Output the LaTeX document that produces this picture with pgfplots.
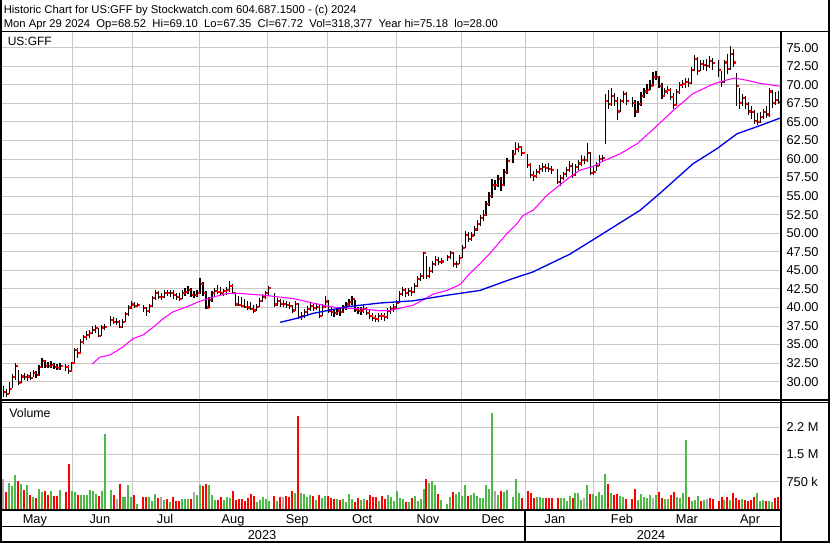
\documentclass[border=0pt]{standalone}
\usepackage{pgfplots}
\usepackage{pgfplotstable}
\pgfplotsset{compat=1.18}
\usepackage{fontspec}
\setmainfont{Liberation Sans}
\definecolor{vgreen}{RGB}{76,185,72}
\definecolor{vred}{RGB}{255,0,0}
\definecolor{vgray}{RGB}{170,170,170}
\definecolor{gridc}{RGB}{200,200,200}
\definecolor{mablue}{RGB}{0,0,235}
\definecolor{mamag}{RGB}{255,0,255}
% i = weekday index from Mon 1 May 2023; h l c = high low close; v = volume (thousands); k: 0 down, 1 up, 2 unchanged
\pgfplotstableread{
i h l c v k
0 29.4 28.0 28.65 809 2
1 29.0 28.0 28.35 471 0
2 30.0 28.4 29.0 699 1
3 31.0 29.2 30.6 613 1
4 32.5 30.2 32.1 927 1
5 31.6 29.6 29.9 756 0
6 31.0 29.8 30.7 670 1
7 31.2 30.2 30.6 528 0
8 31.1 30.1 30.7 642 1
9 31.3 30.2 30.5 385 0
10 31.6 30.6 31.2 328 1
11 31.4 30.5 30.9 300 0
12 32.3 30.8 32.0 556 1
13 33.2 31.9 32.8 471 1
14 32.9 31.9 32.15 500 0
15 32.6 31.8 32.1 385 0
16 32.8 31.9 32.3 500 1
17 32.5 31.7 32.0 357 0
18 32.4 31.6 31.9 357 0
19 32.5 31.6 32.1 528 1
21 32.4 31.5 32.0 471 0
22 32.2 31.0 31.4 1241 0
23 32.7 31.4 32.5 500 1
24 34.6 32.4 34.3 471 1
25 34.5 33.2 33.9 385 0
26 35.7 33.9 35.4 385 1
27 36.3 35.1 36.0 385 1
28 36.8 35.6 36.3 385 1
29 37.0 35.9 36.6 528 1
30 37.5 36.4 37.0 500 1
31 37.6 36.6 37.2 414 1
32 37.3 36.0 36.2 357 0
33 37.6 36.2 37.3 500 1
34 37.8 36.9 37.4 2070 1
36 38.8 37.5 38.3 528 1
37 38.7 37.8 38.1 385 0
38 38.6 37.7 38.1 271 2
39 38.3 37.2 37.4 670 0
40 38.4 37.3 38.1 328 1
41 39.4 38.0 39.1 328 1
42 40.4 38.9 40.0 642 1
43 40.9 39.8 40.4 328 1
44 40.8 39.9 40.2 385 0
45 40.6 40.0 40.3 128 1
47 40.4 39.4 39.9 328 0
48 40.1 38.9 39.5 328 0
49 40.5 39.3 40.2 328 1
50 41.6 40.1 41.3 214 1
51 42.3 41.0 41.9 414 1
52 42.2 41.1 41.4 300 0
53 42.0 41.0 41.4 328 2
54 42.4 41.3 42.0 243 1
55 42.4 41.5 41.9 271 0
56 42.3 41.4 42.0 185 1
57 42.3 41.2 41.7 328 0
58 42.0 41.0 41.4 214 0
59 41.9 40.9 41.2 214 0
60 42.4 41.1 42.0 271 1
61 42.6 41.6 42.1 271 1
62 42.9 41.8 42.3 271 1
63 42.6 41.4 41.7 271 0
64 42.2 41.3 41.7 471 2
65 42.4 41.4 41.9 385 1
66 44.0 41.8 43.2 642 1
67 43.4 41.6 42.0 613 0
68 42.2 39.8 40.0 670 0
69 41.4 39.9 41.0 642 1
70 42.2 40.8 41.9 385 1
71 42.6 41.6 42.2 243 1
72 43.0 41.8 42.1 243 0
73 42.8 41.7 42.0 328 0
74 42.5 41.6 42.2 243 1
75 42.8 41.7 42.4 328 1
76 43.5 42.1 42.9 300 1
77 43.1 41.8 42.0 500 0
78 41.9 40.2 40.4 243 0
79 41.5 40.2 40.3 271 0
80 41.4 40.0 40.2 271 0
81 41.2 39.9 40.1 214 0
82 40.9 39.7 40.0 300 0
83 40.7 39.6 39.8 414 0
84 40.3 39.3 39.6 357 0
85 40.5 39.5 40.1 185 1
86 41.3 40.0 40.9 243 1
87 41.8 40.7 41.4 328 1
88 42.2 41.2 41.9 271 1
89 42.9 41.6 42.6 214 1
91 41.9 40.1 40.4 357 0
92 41.3 40.2 40.9 214 1
93 41.1 40.1 40.5 328 0
94 41.0 40.1 40.5 328 2
95 40.9 39.9 40.3 357 0
96 40.8 39.8 40.2 328 0
97 40.4 39.3 39.6 500 0
98 40.9 39.5 40.5 442 1
99 40.6 38.5 38.7 2560 0
100 39.4 38.3 38.9 442 1
101 39.8 38.6 39.4 414 1
102 40.2 39.0 39.8 328 1
103 40.6 39.5 40.2 385 1
104 40.5 39.5 39.9 357 0
105 40.6 39.6 40.1 243 1
106 40.3 38.6 38.9 385 0
107 40.5 38.8 40.1 300 1
108 41.5 39.9 40.8 357 1
109 41.0 39.3 39.6 357 0
110 40.0 38.8 39.4 300 0
111 39.8 38.7 39.2 271 0
112 40.1 39.0 39.6 271 1
113 40.0 38.9 39.4 243 0
114 40.4 39.2 40.0 271 1
115 40.8 39.7 40.4 185 1
116 41.2 40.1 40.7 414 1
117 41.6 40.4 41.1 271 1
118 41.0 39.4 39.7 185 0
119 40.1 39.1 39.5 300 0
120 40.1 39.0 39.6 243 1
121 40.3 39.3 39.8 271 1
122 40.0 39.0 39.3 243 0
123 39.6 38.5 38.8 385 0
124 39.2 38.2 38.6 328 0
125 39.0 38.0 38.4 328 0
126 39.3 38.1 38.9 214 1
127 39.3 38.3 38.8 357 0
128 39.2 38.2 38.7 271 0
129 39.9 38.5 39.5 385 1
130 40.2 39.1 39.8 328 1
131 40.5 39.4 40.0 214 1
132 41.0 39.8 40.6 500 1
133 42.2 40.6 41.8 300 1
134 42.8 41.5 42.3 271 1
135 42.6 41.4 42.0 185 0
136 42.6 41.6 42.2 185 1
137 42.7 41.6 42.1 300 0
138 43.3 42.0 42.9 357 1
139 44.3 42.7 43.8 214 1
140 44.7 43.5 44.2 271 1
141 47.5 43.9 47.3 556 1
142 47.0 43.9 44.2 813 0
143 45.4 44.0 44.9 699 1
144 46.3 44.6 45.8 756 1
145 46.9 45.6 46.4 642 1
146 46.8 45.7 46.1 414 0
147 46.7 45.8 46.2 243 1
149 47.1 46.3 46.8 128 1
150 47.6 46.5 47.3 328 1
151 47.5 45.5 45.8 471 0
152 46.3 45.3 45.9 414 1
153 47.1 45.8 46.7 471 1
154 48.4 46.6 48.0 357 1
155 50.3 48.0 49.8 642 1
156 50.2 48.8 49.2 357 0
157 50.2 48.9 49.7 385 1
158 51.0 49.6 50.5 442 1
159 51.8 50.3 51.3 357 1
160 52.5 51.0 52.0 300 1
161 53.1 51.6 52.5 300 1
162 54.4 52.3 53.9 642 1
163 55.5 53.7 55.0 556 1
164 57.3 54.8 56.5 2650 1
165 57.2 55.8 56.5 500 2
166 57.9 56.2 57.3 385 1
167 57.6 55.7 56.5 500 0
168 58.6 56.4 58.2 471 1
169 60.2 58.0 59.7 528 1
171 61.2 59.5 60.7 328 1
172 62.3 60.5 61.4 813 1
173 62.1 60.9 61.6 442 1
174 61.8 60.4 60.8 300 0
176 60.7 58.8 59.2 500 0
177 59.5 57.5 57.8 442 0
178 58.4 57.1 57.7 300 0
179 58.7 57.4 58.2 328 1
180 59.2 58.0 58.7 328 1
181 59.4 58.2 58.9 300 1
182 59.3 58.2 58.8 300 0
183 59.4 58.2 58.7 300 0
184 59.1 58.0 58.5 300 0
186 58.6 56.6 56.9 300 0
187 57.9 56.4 57.5 300 1
188 58.3 57.2 58.0 300 1
189 58.9 57.6 58.5 214 1
190 59.7 58.3 59.1 357 1
191 59.4 57.5 57.8 300 0
192 59.3 57.7 58.9 442 1
193 59.9 58.5 59.4 442 1
194 60.5 59.0 59.9 243 1
195 60.4 59.3 59.9 300 2
196 62.2 59.6 60.8 642 1
197 60.9 57.8 58.1 414 0
198 59.0 57.8 58.2 414 1
199 59.6 58.4 59.1 357 1
200 60.5 59.0 60.0 471 1
201 60.6 59.6 60.1 385 1
202 68.8 62.0 67.8 956 1
203 69.3 66.8 67.4 670 0
204 69.5 67.1 68.5 442 1
205 68.9 67.2 67.8 385 0
206 68.3 65.2 66.4 414 0
207 68.1 66.3 67.8 357 1
208 69.1 67.5 68.8 328 1
209 69.0 67.3 67.8 271 0
211 68.4 67.0 67.6 271 0
212 67.9 65.6 66.4 556 0
213 67.8 66.2 67.4 243 1
214 69.0 67.2 68.5 414 1
215 69.5 68.2 69.1 328 1
216 70.1 68.7 69.3 300 1
217 70.6 69.3 69.9 385 1
218 71.7 69.8 71.1 300 2
219 71.9 70.7 71.1 385 1
220 71.2 69.5 69.8 471 0
221 70.2 68.1 68.5 300 0
222 69.6 68.3 69.1 271 1
223 69.9 68.8 69.3 271 1
224 69.5 68.0 68.4 385 0
225 68.9 66.7 67.3 471 0
226 69.4 67.1 69.0 328 1
227 70.4 68.8 70.0 300 1
228 70.6 69.5 70.1 442 1
229 70.9 69.6 70.4 1900 1
230 70.9 69.7 70.2 328 0
231 72.4 70.1 72.0 214 1
232 74.0 71.8 73.5 243 1
233 73.8 71.3 71.8 357 1
234 73.4 71.9 72.8 214 0
235 73.3 72.0 72.7 243 1
236 73.5 71.8 72.5 271 2
237 73.9 72.2 73.2 300 0
238 73.6 72.0 72.9 271 0
240 73.4 71.0 72.0 214 0
241 71.8 69.7 70.4 328 0
242 73.4 70.3 73.0 243 1
243 74.1 71.4 72.1 328 0
244 75.18 72.0 74.2 243 1
245 74.8 72.4 73.0 442 0
246 71.6 67.2 69.8 300 0
247 69.5 66.8 67.6 243 0
248 68.8 67.2 68.2 271 1
249 68.5 66.8 67.4 243 0
250 67.7 65.9 66.4 214 0
251 67.2 65.4 66.3 243 0
252 66.6 64.7 65.1 328 0
253 66.2 64.6 65.0 442 1
254 66.3 64.8 65.7 214 1
255 66.8 65.4 66.3 243 1
256 67.2 65.5 66.0 214 0
257 69.6 65.6 69.1 214 1
258 69.3 66.9 67.6 185 1
259 69.0 67.3 68.0 300 0
260 69.10 67.35 67.72 318 0
}\bars

\begin{document}
\begin{tikzpicture}[x=0.75pt,y=0.75pt]
\path[use as bounding box] (0,0) rectangle (830,543);
\fill[white] (0,0) rectangle (830,543);

% ---------- price panel ----------
\begin{axis}[
  at={(1.5pt,107.775pt)}, anchor=south west, scale only axis,
  width=584.25pt, height=275.25pt,
  xmin=-0.44, xmax=260.97, ymin=27.63, ymax=77.07,
  axis line style={draw=none},
  xtick={23.05,43.5,65.7,88.8,108.9,131.8,153.9,175.1,197.9,219.4,240.2},
  xticklabels={},
  ytick={30,32.5,35,37.5,40,42.5,45,47.5,50,52.5,55,57.5,60,62.5,65,67.5,70,72.5,75},
  xmajorgrids, ymajorgrids,
  grid style={gridc, line width=0.75pt},
  major tick length=0pt,
  yticklabel pos=right,
  yticklabel style={font=\fontsize{9.6}{11}\selectfont, anchor=west, xshift=0.6pt,
    /pgf/number format/fixed, /pgf/number format/fixed zerofill,
    /pgf/number format/precision=2, /pgf/number format/assume math mode=true},
  clip=true,
]
% high-low lines
\addplot[draw=none, mark=none, forget plot,
  error bars/.cd, y dir=both, y explicit, error mark=none,
  error bar style={draw=black, solid, line width=0.9pt}]
  table[x=i, y=c, y error plus expr=\thisrow{h}-\thisrow{c},
        y error minus expr=\thisrow{c}-\thisrow{l}] {\bars};
% close ticks
\addplot[draw=none, mark=none, forget plot,
  error bars/.cd, x dir=plus, x fixed=0.72, error mark=none,
  error bar style={draw=vred, solid, line width=1.6pt}]
  table[x expr=\thisrow{i}+0.2, y=c] {\bars};
% moving averages
\addplot[mamag, line width=0.8pt] coordinates {
(29.9,32.4) (32.4,33.3) (35.8,33.6) (40.2,34.7) (43.5,35.8) (46.9,36.3)
(50.2,37.3) (53.6,38.5) (56.9,39.4) (61.6,40.1) (66.0,40.85) (70.4,41.4)
(75.1,41.9) (79.4,41.9) (83.8,41.75) (88.5,41.6) (92.9,41.4) (97.2,41.2)
(99.6,41.0) (103.9,40.6) (109.6,40.1) (115.3,39.9) (120.7,39.8) (126.4,39.55)
(129.8,39.6) (134.1,40.0) (137.5,40.3) (140.8,41.0) (144.2,41.8) (148.9,42.3)
(153.3,43.1) (156.6,44.6) (160.0,45.9) (163.3,47.3) (169.0,49.95) (172.4,51.3)
(174.4,52.4) (177.8,53.1) (182.4,55.1) (185.8,56.2) (190.2,57.6) (193.5,58.5)
(197.9,59.0) (201.2,59.7) (206.9,60.7) (212.7,62.05) (219.4,64.5) (224.7,66.5)
(231.4,68.8) (238.2,70.1) (242.8,70.65) (245.5,70.9) (249.6,70.6) (253.9,70.2)
(260.6,69.8)};
\addplot[mablue, line width=1pt] coordinates {
(92.9,38.0) (99.6,38.65) (103.9,39.2) (115.3,40.1) (126.4,40.6) (137.5,40.9)
(148.9,41.65) (160.0,42.3) (171.0,43.9) (177.8,44.8) (190.2,47.2) (200.2,49.7)
(213.7,53.1) (220.4,55.4) (231.4,59.35) (239.5,61.4) (246.2,63.4) (253.9,64.5)
(260.6,65.5)};
\end{axis}

% ---------- volume panel ----------
\begin{axis}[
  at={(1.5pt,25.725pt)}, anchor=south west, scale only axis,
  width=584.25pt, height=79.3pt,
  xmin=-0.44, xmax=260.97, ymin=0, ymax=2914,
  axis line style={draw=none},
  xtick={10.6,32.4,54.3,77.1,98.6,120.4,142.5,164.3,185.1,207.6,229.4,250.6},
  xticklabels={May,Jun,Jul,Aug,Sep,Oct,Nov,Dec,Jan,Feb,Mar,Apr},
  minor xtick={23.05,43.5,65.7,88.8,108.9,131.8,153.9,175.1,197.9,219.4,240.2},
  xminorgrids, ymajorgrids,
  major grid style={gridc, line width=0.75pt},
  minor grid style={gridc, line width=0.75pt},
  major tick length=0pt, minor tick length=0pt,
  ytick={750,1500,2250}, yticklabels={750 k,1.5 M,2.2 M},
  yticklabel pos=right,
  yticklabel style={font=\fontsize{9.6}{11}\selectfont, anchor=west, xshift=0.6pt},
  xticklabel style={font=\fontsize{9.6}{11}\selectfont, anchor=base, yshift=-10.8pt},
  clip=true,
]
\addplot[ycomb, draw=vred, line width=1.5pt, restrict expr to domain={\thisrow{k}}{-0.5:0.5}]
  table[x=i, y=v] {\bars};
\addplot[ycomb, draw=vgreen, line width=1.5pt, restrict expr to domain={\thisrow{k}}{0.5:1.5}]
  table[x=i, y=v] {\bars};
\addplot[ycomb, draw=vgray, line width=1.5pt, restrict expr to domain={\thisrow{k}}{1.5:2.5}]
  table[x=i, y=v] {\bars};
\end{axis}

% ---------- frame lines ----------
\fill[black] (0,0) rectangle (2,543);
\fill[black] (828,0) rectangle (830,543);
\fill[black] (0,0) rectangle (830,2);
\fill[black] (0,510.7) rectangle (830,512.3);
\fill[black] (0,142.3) rectangle (830,143.7);
\fill[black] (0,140) rectangle (830,141.3);
\fill[black] (780.3,2) rectangle (781.7,511);
\fill[black] (0,32.3) rectangle (781,34.1);
\fill[black] (0,15.7) rectangle (781,17.4);
\fill[black] (523.9,2) rectangle (525.6,34);

% ---------- texts ----------
\node[anchor=base west, inner sep=0pt, font=\fontsize{8.45}{10}\selectfont] at (3.5,529.7)
  {Historic Chart for US:GFF by Stockwatch.com 604.687.1500 - (c) 2024};
\node[anchor=base west, inner sep=0pt, font=\fontsize{8.45}{10}\selectfont] at (3.5,515.7)
  {Mon Apr 29 2024\ \ Op=68.52\ \ Hi=69.10\ \ Lo=67.35\ \ Cl=67.72\ \ Vol=318,377\ \ Year hi=75.18\ \ lo=28.00};
\node[anchor=base west, inner sep=0pt, font=\fontsize{9}{10}\selectfont] at (7.5,497) {US:GFF};
\node[anchor=base west, inner sep=0pt, font=\fontsize{9.3}{10}\selectfont] at (9,125.7) {Volume};
\node[anchor=base, inner sep=0pt, font=\fontsize{9.6}{11}\selectfont] at (262,4) {2023};
\node[anchor=base, inner sep=0pt, font=\fontsize{9.6}{11}\selectfont] at (651,4) {2024};
\end{tikzpicture}
\end{document}
